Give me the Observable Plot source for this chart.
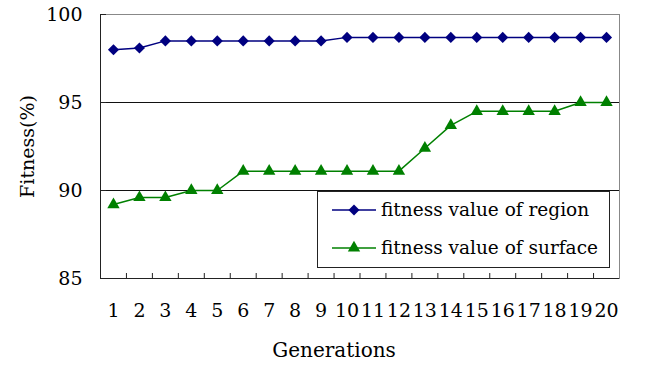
<!DOCTYPE html>
<html><head><meta charset="utf-8">
<script src="https://cdn.jsdelivr.net/npm/d3@7"></script>
<script src="https://cdn.jsdelivr.net/npm/@observablehq/plot@0.6"></script>
<style>
body{margin:0;background:#fff;}
#wrap{position:relative;width:646px;height:367px;}
#legend{position:absolute;left:317px;top:191px;}
svg text{font-family:'DejaVu Serif','Liberation Serif',serif;}
</style></head><body><div id="wrap"></div>
<script>
const generations = [1,2,3,4,5,6,7,8,9,10,11,12,13,14,15,16,17,18,19,20];
const regionFitness = [98.0,98.1,98.5,98.5,98.5,98.5,98.5,98.5,98.5,98.7,98.7,98.7,98.7,98.7,98.7,98.7,98.7,98.7,98.7,98.7];
const surfaceFitness = [89.2,89.6,89.6,90.0,90.0,91.1,91.1,91.1,91.1,91.1,91.1,91.1,92.4,93.7,94.5,94.5,94.5,94.5,95.0,95.0];
const yTicks = [85,90,95,100];
const gridLines = [90,95];
const seriesNames = ["fitness value of region","fitness value of surface"];
const xTitle = "Generations";
const yTitle = "Fitness(%)";

const navy = "#000080", green = "#008000";
const region = generations.map((g,i)=>({g, v: regionFitness[i]}));
const surface = generations.map((g,i)=>({g, v: surfaceFitness[i]}));
const boundaries = generations.slice(0,-1).map(d=>d+0.5);

const chart = Plot.plot({
  width: 646, height: 367,
  marginLeft: 100, marginRight: 27, marginTop: 14, marginBottom: 89,
  style: {fontFamily: "'DejaVu Serif','Liberation Serif',serif", background: "#fff", color: "#000", overflow: "visible"},
  x: {type: "linear", domain: [0.5, 20.5]},
  y: {domain: [85, 100]},
  marks: [
    Plot.ruleY(gridLines, {stroke: "#111", strokeWidth: 1}),
    Plot.frame({stroke: "#888"}),
    Plot.ruleX([0.5], {stroke: "#222"}),
    Plot.ruleY([85], {stroke: "#222"}),
    Plot.axisY({ticks: yTicks, tickSize: 0, tickPadding: 18, fontSize: 19, label: null, tickFormat: d=>d}),
    Plot.axisY({ticks: yTicks, tickSize: -6, text: null, label: null, stroke: "#222"}),
    Plot.axisX({ticks: generations, tickSize: 0, tickPadding: 25, fontSize: 19, label: null, tickFormat: d=>d}),
    Plot.axisX({ticks: boundaries, tickSize: -5, text: null, label: null, stroke: "#222"}),
    Plot.line(region, {x: "g", y: "v", stroke: navy, strokeWidth: 1.5}),
    Plot.dot(region, {x: "g", y: "v", symbol: "diamond2", r: 5, fill: navy}),
    Plot.line(surface, {x: "g", y: "v", stroke: green, strokeWidth: 1.5}),
    Plot.dot(surface, {x: "g", y: "v", symbol: "triangle", r: 4.6, fill: green}),
    Plot.text([xTitle], {frameAnchor: "bottom", dy: 78, dx: -26, fontSize: 20, fill: "#000", textAnchor: "middle"}),
    Plot.text([yTitle], {frameAnchor: "left", dx: -73, rotate: -90, fontSize: 19, fill: "#000", textAnchor: "middle"})
  ]
});
const wrap = document.getElementById("wrap");
wrap.appendChild(chart);

// legend
const lg = d3.select(wrap).append("svg").attr("id","legend").attr("width",294).attr("height",78);
lg.append("rect").attr("x",0.5).attr("y",0.5).attr("width",292).attr("height",76).attr("fill","#fff").attr("stroke","#222");
const entries = [{name: seriesNames[0], color: navy, sym: d3.symbolDiamond2, size: 77},
                 {name: seriesNames[1], color: green, sym: d3.symbolTriangle, size: 66}];
entries.forEach((e,i)=>{
  const cy = 19 + i*38;
  lg.append("line").attr("x1",15).attr("x2",59).attr("y1",cy).attr("y2",cy).attr("stroke",e.color).attr("stroke-width",1.5);
  lg.append("path").attr("d", d3.symbol(e.sym, e.size)()).attr("transform",`translate(37,${cy})`).attr("fill",e.color);
  lg.append("text").attr("x",64).attr("y",cy).attr("dy","0.35em").attr("font-size",18.5).attr("fill","#000").text(e.name);
});
</script></body></html>
